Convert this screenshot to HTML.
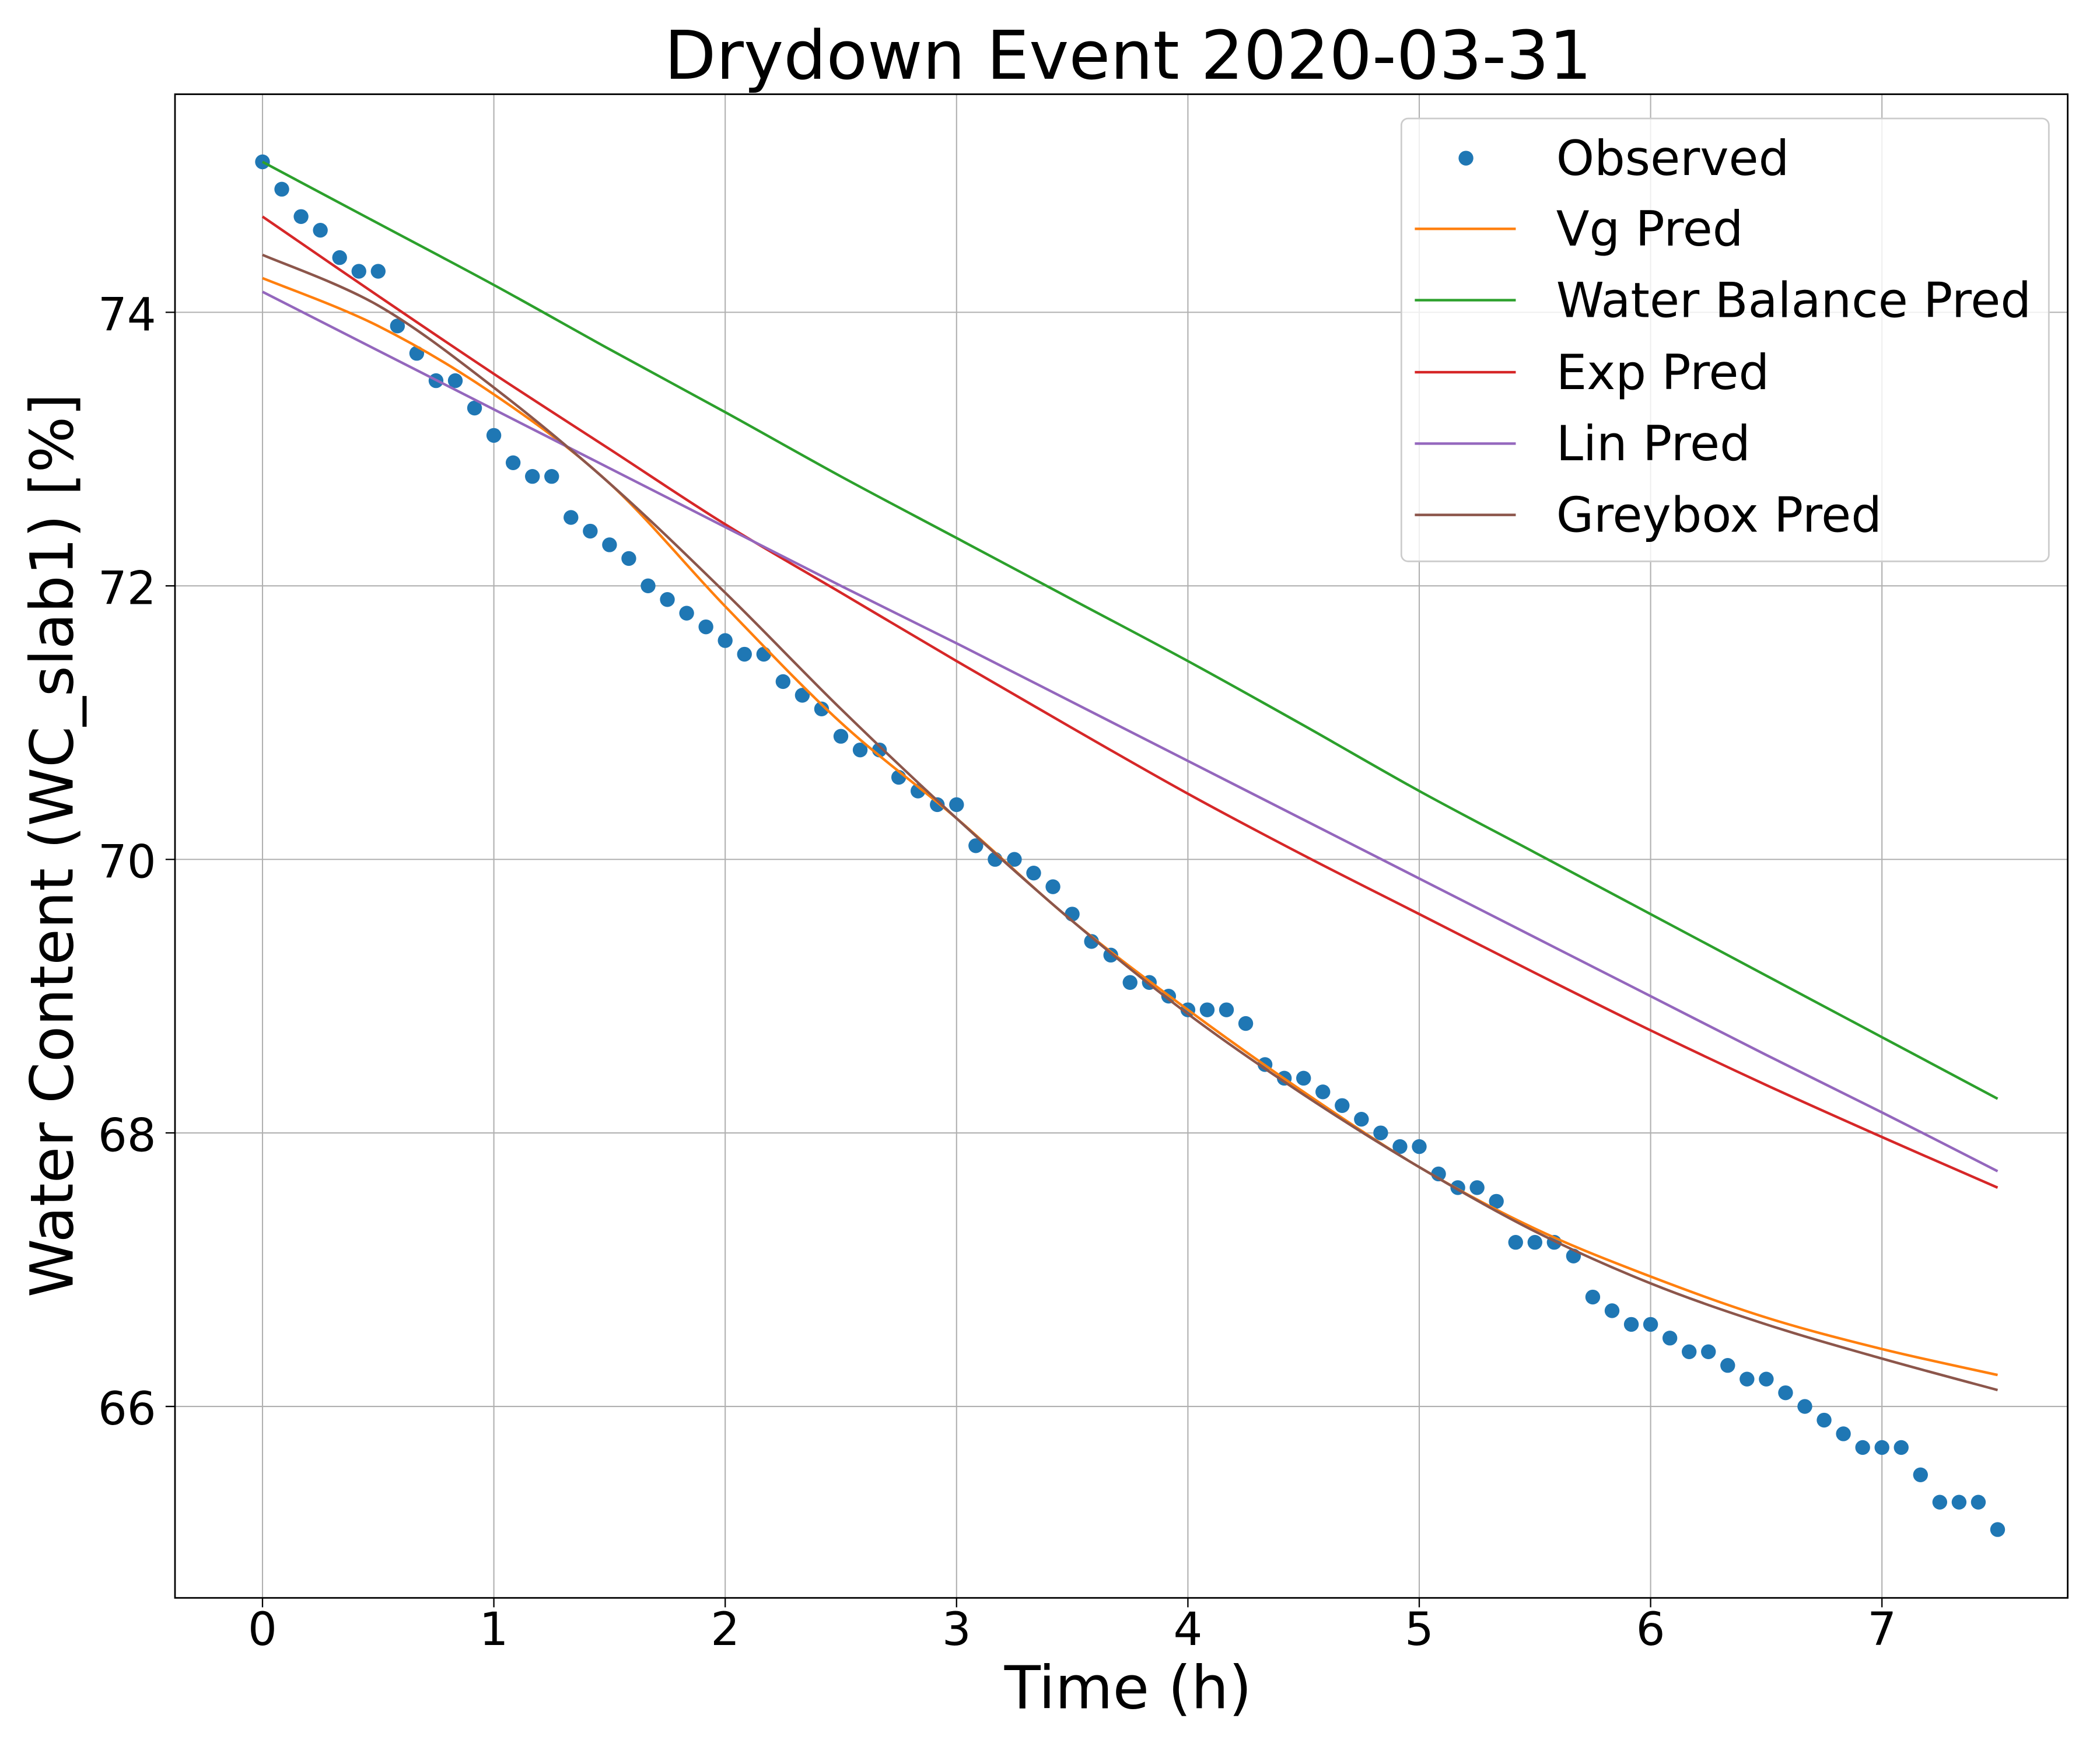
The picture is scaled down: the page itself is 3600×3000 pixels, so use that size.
<!DOCTYPE html>
<html><head><meta charset="utf-8"><style>
html,body{margin:0;padding:0;background:#fff;}
svg{display:block;font-family:"DejaVu Sans","Liberation Sans",sans-serif;}
</style></head><body>
<svg id="chart" width="3600" height="3000" viewBox="0 0 1560 1300" xmlns="http://www.w3.org/2000/svg">
<rect width="1560" height="1300" fill="#fff"/>
<g id="grid"></g>
<g id="series"></g>
<rect x="130" y="70" width="1406" height="1117" fill="none" stroke="#000" stroke-width="1.2"/>
<g id="ticks"></g>
<text x="838" y="58.5" font-size="50" text-anchor="middle">Drydown Event 2020-03-31</text>
<text x="838" y="1269" font-size="44" text-anchor="middle">Time (h)</text>
<text transform="translate(54,628) rotate(-90)" font-size="44" text-anchor="middle">Water Content (WC_slab1) [%]</text>
<g id="legend">
<rect x="1041" y="88" width="481" height="329" rx="5" fill="#fff" fill-opacity="0.8" stroke="#ccc" stroke-width="1.2"/>
</g>
</svg>
<script>
const obsValues=[75.1,74.9,74.7,74.6,74.4,74.3,74.3,73.9,73.7,73.5,73.5,73.3,73.1,72.9,72.8,72.8,72.5,72.4,72.3,72.2,72.0,71.9,71.8,71.7,71.6,71.5,71.5,71.3,71.2,71.1,70.9,70.8,70.8,70.6,70.5,70.4,70.4,70.1,70.0,70.0,69.9,69.8,69.6,69.4,69.3,69.1,69.1,69.0,68.9,68.9,68.9,68.8,68.5,68.4,68.4,68.3,68.2,68.1,68.0,67.9,67.9,67.7,67.6,67.6,67.5,67.2,67.2,67.2,67.1,66.8,66.7,66.6,66.6,66.5,66.4,66.4,66.3,66.2,66.2,66.1,66.0,65.9,65.8,65.7,65.7,65.7,65.5,65.3,65.3,65.3,65.1];
const predTimes=[0,0.5,1,1.5,2,2.5,3,3.5,4,4.5,5,5.5,6,6.5,7,7.5];
const vgPred=[74.25,73.9,73.4,72.75,71.85,71.0,70.3,69.55,68.9,68.3,67.75,67.3,66.95,66.65,66.42,66.23];
const wbPred=[75.1,74.65,74.2,73.73,73.27,72.8,72.35,71.9,71.45,70.98,70.5,70.05,69.6,69.15,68.7,68.25];
const expPred=[74.7,74.12,73.55,73.0,72.45,71.95,71.45,70.96,70.48,70.03,69.6,69.17,68.75,68.35,67.97,67.6];
const linPred=[74.15,73.72,73.29,72.86,72.43,72.0,71.58,71.15,70.72,70.29,69.86,69.43,69.0,68.57,68.15,67.72];
const greyPred=[74.42,74.05,73.45,72.75,71.95,71.1,70.3,69.55,68.87,68.28,67.75,67.28,66.9,66.6,66.35,66.12];
const xTicks=[0,1,2,3,4,5,6,7];
const yTicks=[66,68,70,72,74];
const NS="http://www.w3.org/2000/svg";
const X=t=>195+t*171.86;
const Y=v=>232+(74-v)*101.6;
function mk(tag,attrs,parent){const e=document.createElementNS(NS,tag);for(const k in attrs)e.setAttribute(k,attrs[k]);parent.appendChild(e);return e;}
function smoothPath(pts){let d='M'+pts[0][0]+','+pts[0][1];for(let i=0;i<pts.length-1;i++){const p0=pts[i-1]||pts[i],p1=pts[i],p2=pts[i+1],p3=pts[i+2]||p2;const c1x=p1[0]+(p2[0]-p0[0])/6,c1y=p1[1]+(p2[1]-p0[1])/6,c2x=p2[0]-(p3[0]-p1[0])/6,c2y=p2[1]-(p3[1]-p1[1])/6;d+=' C'+c1x+','+c1y+' '+c2x+','+c2y+' '+p2[0]+','+p2[1];}return d;}
const grid=document.getElementById('grid'),ticks=document.getElementById('ticks'),series=document.getElementById('series'),legend=document.getElementById('legend');
xTicks.forEach(t=>{
 const g=mk('line',{x1:X(t),x2:X(t),y1:70,y2:1187,stroke:'#b0b0b0','stroke-width':0.9},grid);
 
 
 const tk=mk('line',{x1:X(t),x2:X(t),y1:1187,y2:1194,stroke:'#000','stroke-width':1},ticks);
 
 
 const l=mk('text',{x:X(t),y:1222,'font-size':34,'text-anchor':'middle'},ticks);l.textContent=t;
 
 
});
yTicks.forEach(v=>{
 const g=mk('line',{x1:130,x2:1536,y1:Y(v),y2:Y(v),stroke:'#b0b0b0','stroke-width':0.9},grid);
 
 
 const tk=mk('line',{x1:123,x2:130,y1:Y(v),y2:Y(v),stroke:'#000','stroke-width':1},ticks);
 
 
 const l=mk('text',{x:116,y:Y(v)+13.5,'font-size':34,'text-anchor':'end'},ticks);l.textContent=v;
 
 
});
obsValues.forEach((v,i)=>{
 const c=mk('circle',{cx:X(i/12),cy:Y(v),r:5.5,fill:'#1f77b4'},series);
 
 
});
const lines=[['vg-pred-line',vgPred,'#ff7f0e','Vg Pred'],['water-balance-pred-line',wbPred,'#2ca02c','Water Balance Pred'],['exp-pred-line',expPred,'#d62728','Exp Pred'],['lin-pred-line',linPred,'#9467bd','Lin Pred'],['greybox-pred-line',greyPred,'#8c564b','Greybox Pred']];
lines.forEach(([name,vals,col])=>{
 const p=mk('path',{d:smoothPath(vals.map((v,i)=>[X(predTimes[i]),Y(v)])),fill:'none',stroke:col,'stroke-width':1.9,'stroke-linejoin':'round'},series);
 
 
});
const ly=[117.5,170,223,276.5,329.5,382.5];
const d=mk('circle',{cx:1089,cy:ly[0],r:5.5,fill:'#1f77b4'},legend);


const t0=mk('text',{x:1156,y:ly[0]+12.5,'font-size':36},legend);t0.textContent='Observed';


lines.forEach(([name,vals,col,label],i)=>{
 const y=ly[i+1];
 const l=mk('line',{x1:1051,x2:1126,y1:y,y2:y,stroke:col,'stroke-width':1.9},legend);
 
 
 const t=mk('text',{x:1156,y:y+12.5,'font-size':36},legend);t.textContent=label;
 
 
});
</script>
</body></html>
